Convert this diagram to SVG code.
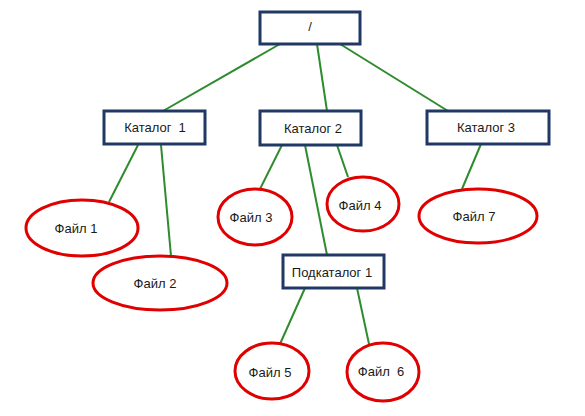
<svg xmlns="http://www.w3.org/2000/svg" width="585" height="416" viewBox="0 0 585 416">
<style>
.box{fill:#fff;stroke:#1f3864;stroke-width:3}
.file{fill:#fff;stroke:#e00000;stroke-width:3}
.edge{stroke:#2e8b2e;stroke-width:2;fill:none}
text{font-family:"Liberation Sans",Arial,sans-serif;font-size:13px;fill:#1a1a1a;text-anchor:middle}
</style>
<rect width="585" height="416" fill="#fff"/>
<g id="connectors">
<line class="edge" x1="280" y1="44" x2="163" y2="111"/>
<line class="edge" x1="317" y1="44" x2="327" y2="111"/>
<line class="edge" x1="340" y1="44" x2="448" y2="111"/>
<line class="edge" x1="138" y1="145" x2="109" y2="202"/>
<line class="edge" x1="161" y1="145" x2="171" y2="256"/>
<line class="edge" x1="282" y1="145" x2="260" y2="189"/>
<line class="edge" x1="305" y1="145" x2="327" y2="255"/>
<line class="edge" x1="337" y1="145" x2="348" y2="177"/>
<line class="edge" x1="481" y1="144" x2="462" y2="189"/>
<line class="edge" x1="305" y1="288" x2="280" y2="344"/>
<line class="edge" x1="357" y1="288" x2="369" y2="344"/>
</g>
<g id="root"><rect class="box" x="260" y="12" width="100" height="32"/><text x="310" y="31">/</text></g>
<g id="katalog1"><rect class="box" x="104" y="111" width="101" height="33"/><text x="155" y="132" xml:space="preserve">Каталог  1</text></g>
<g id="katalog2"><rect class="box" x="260" y="111" width="101" height="34"/><text x="313" y="133">Каталог 2</text></g>
<g id="katalog3"><rect class="box" x="427" y="111" width="122" height="33"/><text x="486" y="132">Каталог 3</text></g>
<g id="podkatalog1"><rect class="box" x="283" y="255" width="101" height="33"/><text x="332" y="277">Подкаталог 1</text></g>
<g id="file1"><ellipse class="file" cx="82" cy="228" rx="56" ry="28"/><text x="76" y="233">Файл 1</text></g>
<g id="file2"><ellipse class="file" cx="160" cy="283" rx="67" ry="27"/><text x="155" y="288">Файл 2</text></g>
<g id="file3"><ellipse class="file" cx="255" cy="217" rx="37" ry="28"/><text x="251" y="222">Файл 3</text></g>
<g id="file4"><ellipse class="file" cx="363" cy="204" rx="36" ry="27"/><text x="360" y="210">Файл 4</text></g>
<g id="file7"><ellipse class="file" cx="478" cy="216" rx="59" ry="27"/><text x="474" y="221">Файл 7</text></g>
<g id="file5"><ellipse class="file" cx="272" cy="371" rx="37" ry="28"/><text x="270" y="377">Файл 5</text></g>
<g id="file6"><ellipse class="file" cx="383" cy="372" rx="36" ry="29"/><text x="381" y="376" xml:space="preserve">Файл  6</text></g>
</svg>
